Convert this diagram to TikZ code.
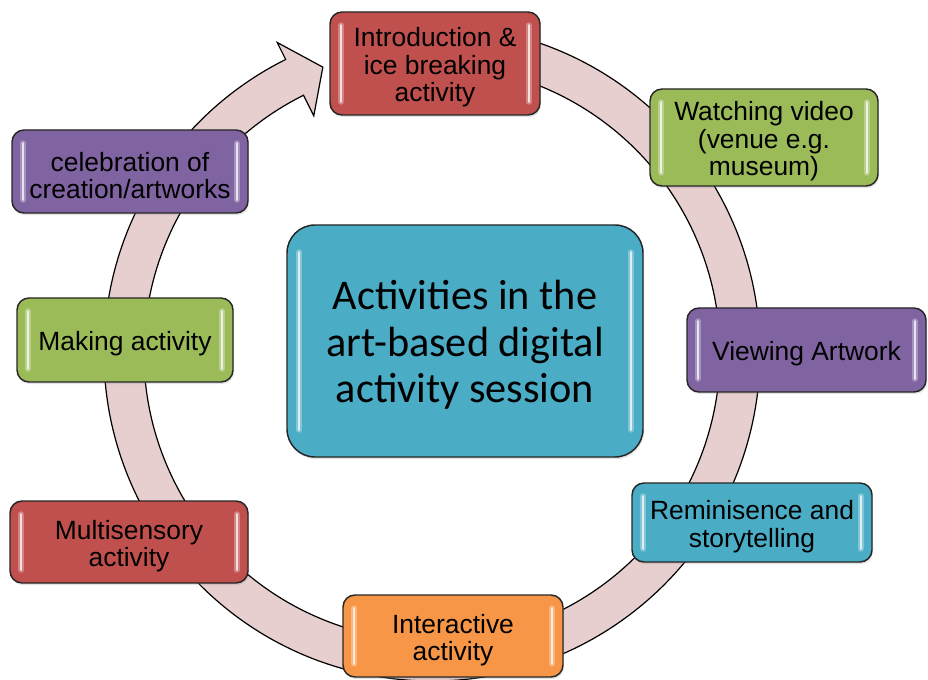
\documentclass[tikz,border=0pt]{standalone}
\usepackage{fontspec}
\newfontfamily\boxfont{Liberation Sans}
\newfontfamily\hubfont{Carlito}
\usetikzlibrary{shadows}

\definecolor{ringfill}{RGB}{232,207,207}
\definecolor{accRed}{RGB}{192,80,77}
\definecolor{accGreen}{RGB}{155,187,89}
\definecolor{accPurple}{RGB}{128,100,162}
\definecolor{accTeal}{RGB}{75,172,198}
\definecolor{accOrange}{RGB}{247,150,70}

% glossy vertical highlights inside a box: node, horizontal inset, vertical inset
\newcommand{\shine}[3]{%
  \draw[glow] ([shift={(#2,-#3)}]#1.north west) -- ([shift={(#2,#3)}]#1.south west);
  \draw[glow] ([shift={(-#2,-#3)}]#1.north east) -- ([shift={(-#2,#3)}]#1.south east);
  \draw[glint] ([shift={(#2,-#3)}]#1.north west) -- ([shift={(#2,#3)}]#1.south west);
  \draw[glint] ([shift={(-#2,-#3)}]#1.north east) -- ([shift={(-#2,#3)}]#1.south east);
}

\begin{document}
\begin{tikzpicture}[x=0.75pt,y=0.75pt,
  ring/.style={fill=ringfill, draw=black, line width=0.9pt, line join=miter},
  stage/.style={draw=black!85, line width=1.1pt, rounded corners=9pt,
    inner sep=0pt,
    drop shadow={opacity=0.22, shadow xshift=0.8pt, shadow yshift=-1.6pt}},
  hub/.style={stage, rounded corners=21pt, fill=accTeal},
  stagetext/.style={inner sep=0pt, align=center, text=black,
    font=\boxfont\fontsize{19.8}{20.6}\selectfont},
  hubtext/.style={stagetext, font=\hubfont\fontsize{31.7}{35}\selectfont},
  glow/.style={white, opacity=0.3, line width=4.5pt, line cap=round},
  glint/.style={white, opacity=0.75, line width=1.8pt, line cap=round}
]
\useasboundingbox (0,0) rectangle (928,679);

% circular arrow running clockwise around the hub
\draw[ring] ([shift={(432,326)}]80:328) arc[start angle=80, end angle=-243.5, radius=328]
  -- ([shift={(432,326)}]116.5:347)
  -- ([shift={(432,326)}]110.9:306)
  -- ([shift={(432,326)}]116.5:265)
  -- ([shift={(432,326)}]116.5:288)
  arc[start angle=-243.5, end angle=80, radius=288]
  -- cycle;

% hub
\node[hub, minimum width=356*0.75pt, minimum height=232*0.75pt] (hubbox) at (465,338) {};

% stages of the session
\node[stage, fill=accRed, minimum width=210*0.75pt, minimum height=103*0.75pt] (intro) at (435,615.5) {};
\node[stage, fill=accGreen, minimum width=228*0.75pt, minimum height=97*0.75pt] (video) at (764,541.5) {};
\node[stage, fill=accPurple, minimum width=239*0.75pt, minimum height=84*0.75pt] (view) at (806.5,329) {};
\node[stage, fill=accTeal, minimum width=240*0.75pt, minimum height=79*0.75pt] (remin) at (752,156.5) {};
\node[stage, fill=accOrange, minimum width=220*0.75pt, minimum height=82*0.75pt] (inter) at (453,43) {};
\node[stage, fill=accRed, minimum width=238*0.75pt, minimum height=82*0.75pt] (multi) at (129,137) {};
\node[stage, fill=accGreen, minimum width=216*0.75pt, minimum height=84*0.75pt] (making) at (125,339) {};
\node[stage, fill=accPurple, minimum width=236*0.75pt, minimum height=83*0.75pt] (celeb) at (130,507.5) {};

% glossy highlights
\foreach \n in {intro,video,view,remin,inter,multi,making,celeb}{\shine{\n}{12}{14}}
\shine{hubbox}{13}{28}

% captions
\node[hubtext] (hubcap) at ([yshift=-3]hubbox.center) {Activities in the\\art-based digital\\activity session};
\node[stagetext] (introcap) at ([yshift=-3]intro.center) {Introduction \&\\ice breaking\\activity};
\node[stagetext] (videocap) at ([yshift=-3]video.center) {Watching video\\(venue e.g.\\museum)};
\node[stagetext] (viewcap) at ([yshift=-3]view.center) {Viewing Artwork};
\node[stagetext] (remincap) at ([yshift=-3]remin.center) {Reminisence and\\storytelling};
\node[stagetext] (intercap) at ([yshift=-3]inter.center) {Interactive\\activity};
\node[stagetext] (multicap) at ([yshift=-3]multi.center) {Multisensory\\activity};
\node[stagetext] (makingcap) at ([yshift=-3]making.center) {Making activity};
\node[stagetext] (celebcap) at ([yshift=-3]celeb.center) {celebration of\\creation/artworks};
\end{tikzpicture}
\end{document}
